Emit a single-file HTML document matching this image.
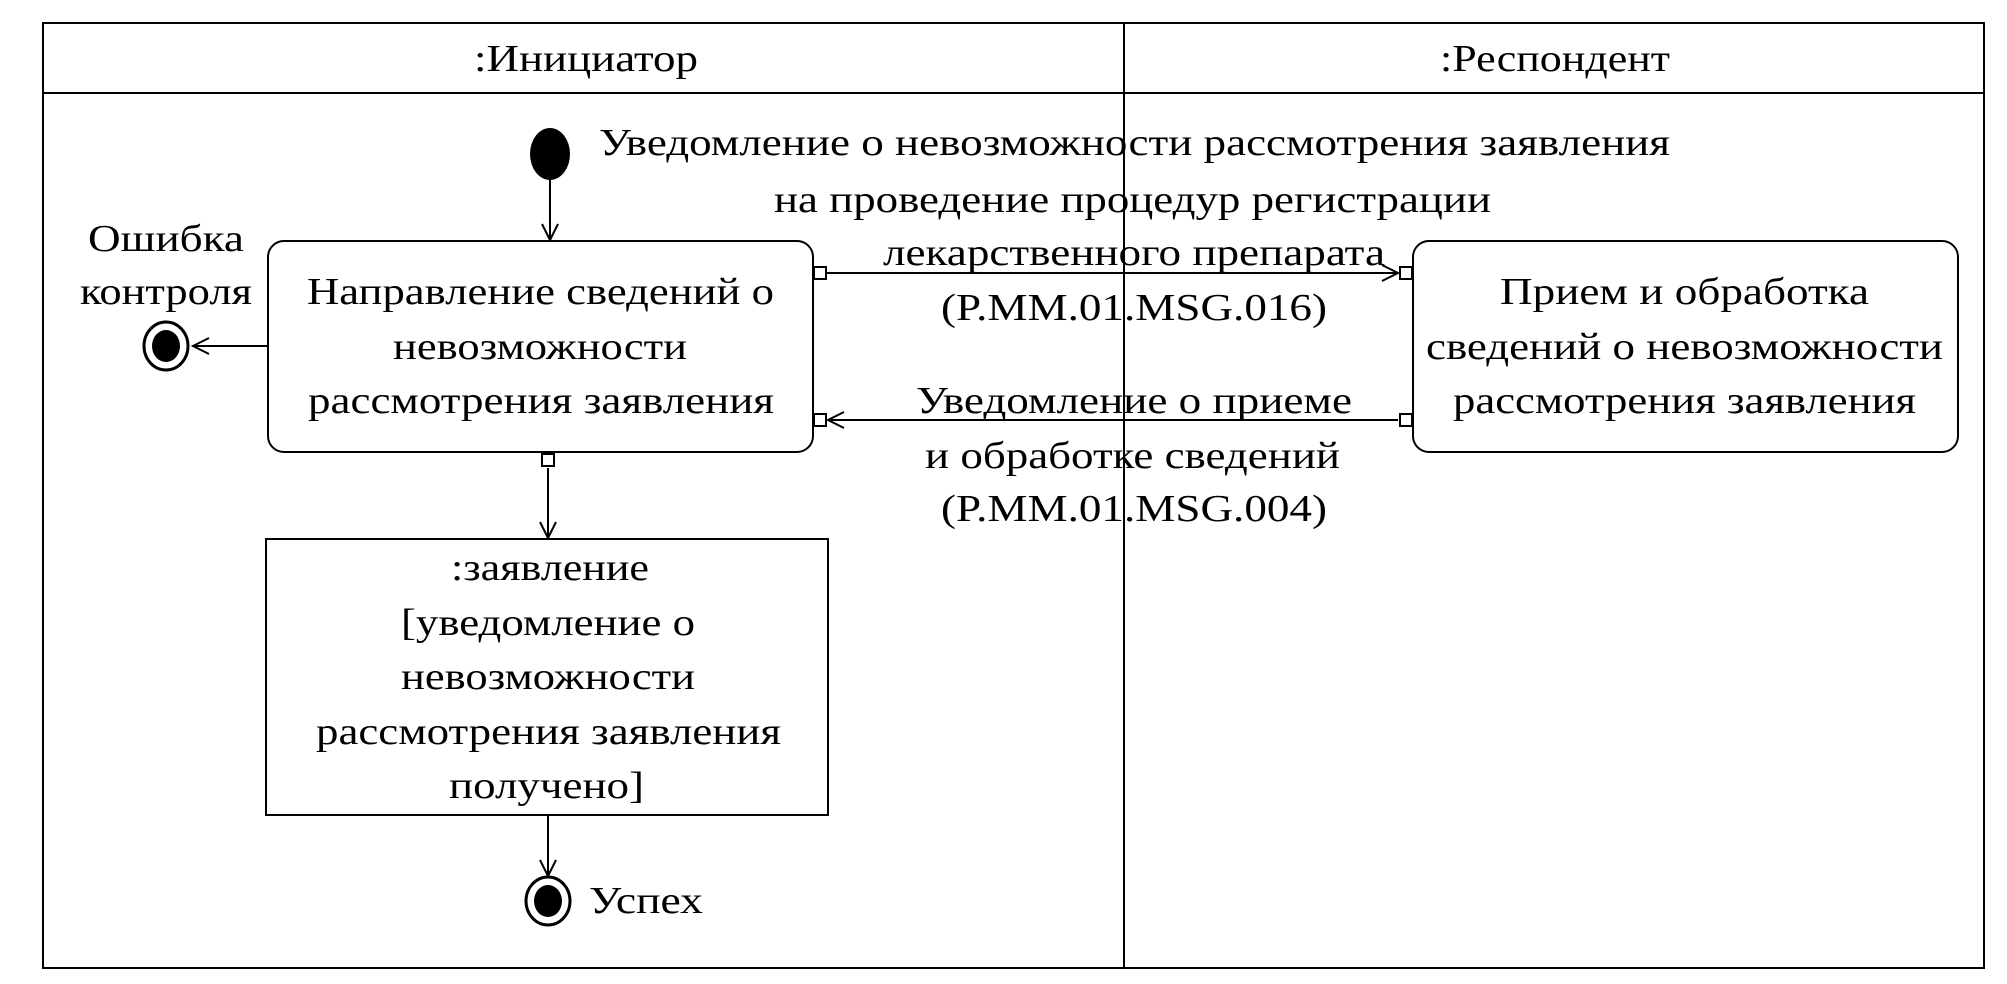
<!DOCTYPE html>
<html><head><meta charset="utf-8"><style>
html,body{margin:0;padding:0;background:#fff;}
svg{display:block}
text{font-family:"Liberation Serif",serif;font-size:38px;fill:#000;dominant-baseline:central;}
</style></head><body>
<svg width="2007" height="984" viewBox="0 0 2007 984" xmlns="http://www.w3.org/2000/svg">
<defs>
<marker id="a" markerWidth="20" markerHeight="20" refX="18" refY="10" orient="auto" markerUnits="userSpaceOnUse">
<path d="M2,2 L18,10 L2,18" fill="none" stroke="#000" stroke-width="2"/>
</marker>
</defs>
<g fill="none" stroke="#000" stroke-width="2">
<rect x="43" y="23" width="1941" height="945"/>
<line x1="43" y1="93" x2="1984" y2="93"/>
<line x1="1124" y1="23" x2="1124" y2="968"/>
<rect x="268" y="241" width="545" height="211" rx="16"/>
<rect x="1413" y="241" width="545" height="211" rx="16"/>
<rect x="266" y="539" width="562" height="276"/>
<line x1="550" y1="180" x2="550" y2="240" marker-end="url(#a)"/>
<line x1="827" y1="273" x2="1398" y2="273" marker-end="url(#a)"/>
<line x1="1398" y1="420" x2="828" y2="420" marker-end="url(#a)"/>
<line x1="548" y1="468" x2="548" y2="538" marker-end="url(#a)"/>
<line x1="548" y1="815" x2="548" y2="876" marker-end="url(#a)"/>
<line x1="268" y1="346" x2="193" y2="346" marker-end="url(#a)"/>
<rect x="814" y="267" width="12" height="12" fill="#fff"/>
<rect x="1400" y="267" width="12" height="12" fill="#fff"/>
<rect x="1400" y="414" width="12" height="12" fill="#fff"/>
<rect x="814" y="414" width="12" height="12" fill="#fff"/>
<rect x="542" y="454" width="12" height="12" fill="#fff"/>
<ellipse cx="166" cy="346" rx="22" ry="24" stroke-width="3"/>
<ellipse cx="548" cy="901" rx="22" ry="24" stroke-width="3"/>
</g>
<ellipse cx="550" cy="154" rx="20" ry="26" fill="#000"/>
<ellipse cx="166" cy="346" rx="14" ry="16" fill="#000"/>
<ellipse cx="548" cy="901" rx="14" ry="16" fill="#000"/>

<text x="474" y="59" textLength="224" lengthAdjust="spacingAndGlyphs">:Инициатор</text>
<text x="1440" y="59" textLength="230" lengthAdjust="spacingAndGlyphs">:Респондент</text>

<text x="307" y="292" textLength="467" lengthAdjust="spacingAndGlyphs">Направление сведений о</text>
<text x="393" y="347" textLength="294" lengthAdjust="spacingAndGlyphs">невозможности</text>
<text x="308" y="401" textLength="466" lengthAdjust="spacingAndGlyphs">рассмотрения заявления</text>

<text x="1500" y="292" textLength="369" lengthAdjust="spacingAndGlyphs">Прием и обработка</text>
<text x="1426" y="347" textLength="517" lengthAdjust="spacingAndGlyphs">сведений о невозможности</text>
<text x="1453" y="401" textLength="463" lengthAdjust="spacingAndGlyphs">рассмотрения заявления</text>

<text x="451" y="568" textLength="198" lengthAdjust="spacingAndGlyphs">:заявление</text>
<text x="401" y="623" textLength="294" lengthAdjust="spacingAndGlyphs">[уведомление о</text>
<text x="401" y="677" textLength="294" lengthAdjust="spacingAndGlyphs">невозможности</text>
<text x="316" y="732" textLength="465" lengthAdjust="spacingAndGlyphs">рассмотрения заявления</text>
<text x="449" y="786" textLength="195" lengthAdjust="spacingAndGlyphs">получено]</text>

<text x="599" y="143" textLength="1071" lengthAdjust="spacingAndGlyphs">Уведомление о невозможности рассмотрения заявления</text>
<text x="774" y="200" textLength="717" lengthAdjust="spacingAndGlyphs">на проведение процедур регистрации</text>
<text x="883" y="253" textLength="502" lengthAdjust="spacingAndGlyphs">лекарственного препарата</text>
<text x="941" y="308" textLength="386" lengthAdjust="spacingAndGlyphs">(P.MM.01.MSG.016)</text>

<text x="916" y="401" textLength="436" lengthAdjust="spacingAndGlyphs">Уведомление о приеме</text>
<text x="925" y="456" textLength="415" lengthAdjust="spacingAndGlyphs">и обработке сведений</text>
<text x="941" y="509" textLength="386" lengthAdjust="spacingAndGlyphs">(P.MM.01.MSG.004)</text>

<text x="88" y="239" textLength="156" lengthAdjust="spacingAndGlyphs">Ошибка</text>
<text x="80" y="292" textLength="172" lengthAdjust="spacingAndGlyphs">контроля</text>
<text x="589" y="901" textLength="114" lengthAdjust="spacingAndGlyphs">Успех</text>
</svg>
</body></html>
